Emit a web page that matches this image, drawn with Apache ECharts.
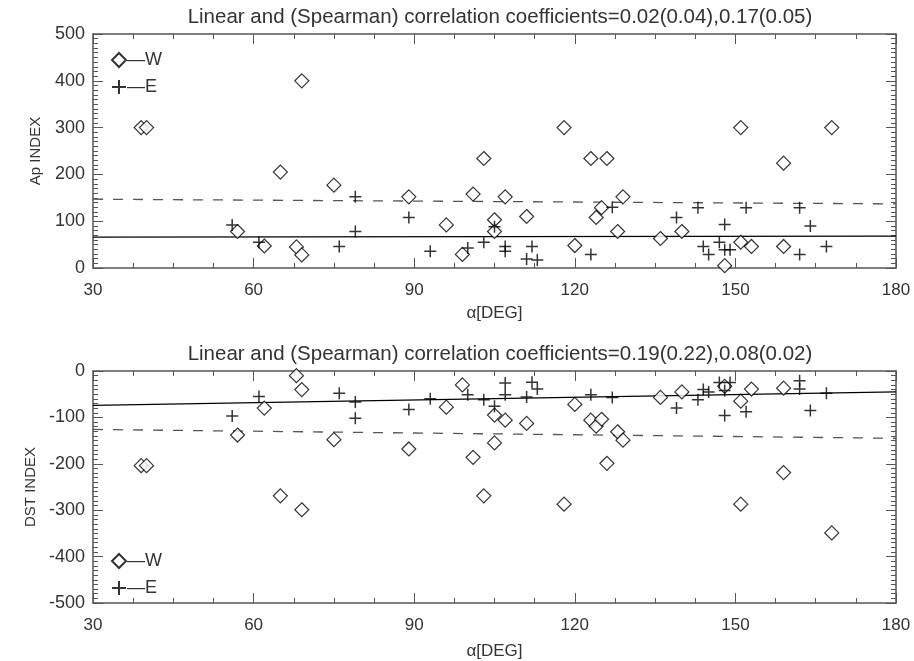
<!DOCTYPE html>
<html>
<head>
<meta charset="utf-8">
<script src="https://cdn.jsdelivr.net/npm/echarts@6/dist/echarts.min.js"></script>
<style>html,body{margin:0;padding:0;background:#fff}#c{width:914px;height:661px}</style>
</head>
<body>
<div id="c"></div>
<script>
// ---- data ----
const titleTop = 'Linear and (Spearman) correlation coefficients=0.02(0.04),0.17(0.05)';
const titleBottom = 'Linear and (Spearman) correlation coefficients=0.19(0.22),0.08(0.02)';
const xTicks = [30, 60, 90, 120, 150, 180];

const angleW = [39, 40, 57, 62, 65, 68, 69, 69, 75, 89, 96, 99, 101, 103, 105, 105, 107, 111, 118, 120, 123, 124, 125, 126, 128, 129, 136, 140, 148, 151, 151, 153, 159, 159, 168];
const apW    = [300, 300, 78, 47, 205, 45, 400, 28, 177, 152, 92, 29, 158, 234, 103, 78, 152, 110, 300, 48, 234, 108, 129, 234, 78, 152, 63, 78, 5, 300, 55, 46, 224, 46, 300];
const dstW   = [-204, -204, -138, -80, -269, -10, -40, -299, -148, -168, -78, -30, -186, -269, -95, -155, -106, -113, -287, -72, -106, -119, -104, -199, -131, -149, -57, -45, -33, -65, -287, -39, -37, -219, -349];

const angleE = [56, 61, 76, 79, 79, 89, 93, 100, 103, 105, 107, 107, 111, 112, 113, 123, 127, 139, 143, 144, 145, 147, 148, 148, 149, 152, 162, 162, 164, 167];
const apE    = [92, 55, 46, 152, 78, 108, 36, 43, 55, 88, 46, 36, 19, 46, 17, 29, 130, 108, 129, 46, 29, 55, 93, 39, 39, 129, 129, 29, 90, 46];
const dstE   = [-97, -55, -48, -67, -102, -83, -60, -51, -62, -76, -26, -51, -56, -24, -39, -51, -57, -80, -62, -40, -45, -25, -42, -96, -25, -88, -21, -39, -85, -48];

// regression lines (value at alpha=30 and alpha=180)
const fitX = [30, 180];
const fitApSolid  = [66, 68];
const fitApDash   = [147, 137];
const fitDstSolid = [-74, -45];
const fitDstDash  = [-126, -145];

// ---- chart ----
const FONT = 'Liberation Sans';
const TXT = '#333';
const AX = '#555';
const pair = (xs, ys) => xs.map((x, i) => [x, ys[i]]);
const PLUS = 'path://M0,6L12,6M6,0L6,12';

function xAx(grid, show, nameGap) {
  return {
    gridIndex: grid, type: 'value', min: 30, max: 180, interval: 30,
    position: show ? 'bottom' : 'top',
    name: show ? 'α[DEG]' : '', nameLocation: 'middle', nameGap: nameGap,
    nameTextStyle: { fontFamily: FONT, fontSize: 17, color: TXT },
    axisLine: { show: true, onZero: false, lineStyle: { color: AX, width: 1.5 } },
    axisTick: { show: true, inside: true, length: 10, lineStyle: { color: AX } },
    minorTick: { show: true, splitNumber: 4, length: 5, lineStyle: { color: AX } },
    axisLabel: { show: show, margin: 14, fontFamily: FONT, fontSize: 17, color: TXT },
    splitLine: { show: false }
  };
}
function yAx(grid, show, min, max, name) {
  return {
    gridIndex: grid, type: 'value', min: min, max: max, interval: 100,
    position: show ? 'left' : 'right',
    name: show ? name : '', nameLocation: 'middle', nameGap: 50,
    nameTextStyle: { fontFamily: FONT, fontSize: 15, color: TXT },
    axisLine: { show: true, onZero: false, lineStyle: { color: AX, width: 1.5 } },
    axisTick: { show: true, inside: true, length: 10, lineStyle: { color: AX } },
    minorTick: { show: true, splitNumber: 10, length: 5, lineStyle: { color: AX } },
    axisLabel: { show: show, margin: 8, fontFamily: FONT, fontSize: 18, color: TXT },
    splitLine: { show: false }
  };
}
function scat(name, xi, yi, data, symbol, size) {
  return {
    name: name, type: 'scatter', xAxisIndex: xi, yAxisIndex: yi, data: data,
    symbol: symbol, symbolSize: size, z: 3,
    itemStyle: symbol === 'diamond'
      ? { color: '#fff', borderColor: '#000', borderWidth: 1.2 }
      : { color: '#000', borderColor: '#000', borderWidth: 1.5 }
  };
}
function fit(xi, yi, data, dashed) {
  return {
    type: 'line', xAxisIndex: xi, yAxisIndex: yi, data: data, symbol: 'none', silent: true, z: 2,
    lineStyle: dashed ? { color: '#555', width: 1.3, type: [10, 10] } : { color: '#000', width: 1.2 }
  };
}
function legend(top) {
  return {
    left: 106, top: top, orient: 'vertical', itemWidth: 14, itemHeight: 14, itemGap: 9,
    selectedMode: false, data: ['W', 'E'],
    formatter: n => '—' + n,
    textStyle: { fontFamily: FONT, fontSize: 18, color: TXT, padding: [0, 0, 0, -4] }
  };
}

const chart = echarts.init(document.getElementById('c'), null, { renderer: 'canvas' });
chart.setOption({
  animation: false,
  backgroundColor: '#fff',
  title: [
    { text: titleTop, left: 495, top: 2, textAlign: 'center', textStyle: { fontFamily: FONT, fontSize: 20.5, fontWeight: 'normal', color: TXT } },
    { text: titleBottom, left: 495, top: 339, textAlign: 'center', textStyle: { fontFamily: FONT, fontSize: 20.5, fontWeight: 'normal', color: TXT } }
  ],
  legend: [legend(46), legend(547)],
  grid: [
    { left: 93, right: 18, top: 34, height: 234 },
    { left: 93, right: 18, top: 371, height: 233 }
  ],
  xAxis: [xAx(0, true, 37), xAx(0, false, 0), xAx(1, true, 40), xAx(1, false, 0)],
  yAxis: [yAx(0, true, 0, 500, 'Ap INDEX'), yAx(0, false, 0, 500, ''),
          yAx(1, true, -500, 0, 'DST INDEX'), yAx(1, false, -500, 0, '')],
  series: [
    fit(0, 0, pair(fitX, fitApSolid), false),
    fit(0, 0, pair(fitX, fitApDash), true),
    scat('W', 0, 0, pair(angleW, apW), 'diamond', 14),
    scat('E', 0, 0, pair(angleE, apE), PLUS, 12),
    fit(2, 2, pair(fitX, fitDstSolid), false),
    fit(2, 2, pair(fitX, fitDstDash), true),
    scat('W', 2, 2, pair(angleW, dstW), 'diamond', 14),
    scat('E', 2, 2, pair(angleE, dstE), PLUS, 12)
  ]
});
</script>
</body>
</html>
